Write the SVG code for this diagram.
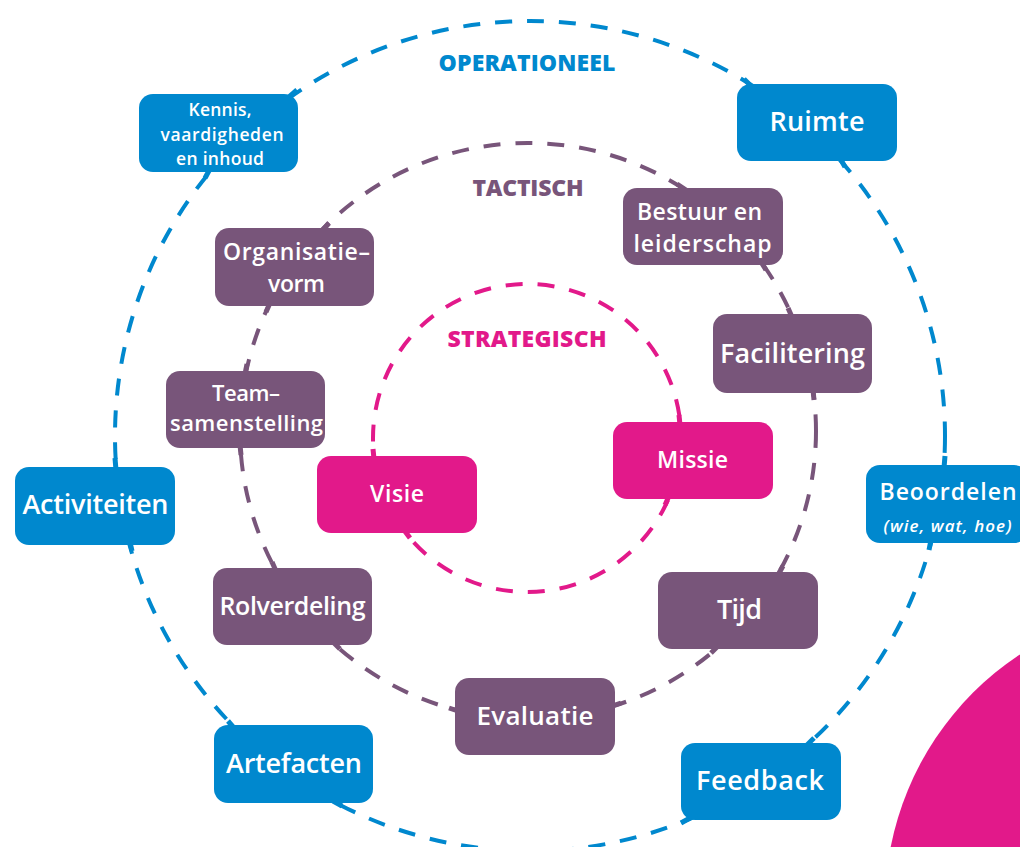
<svg xmlns="http://www.w3.org/2000/svg" width="1020" height="847" viewBox="0 0 1020 847">
<style>
.ring{fill:none;stroke-width:4;stroke-dasharray:17 15}
.blue{fill:#0088CE}
.purple{fill:#78557A}
.pink{fill:#E2198A}
.sb{stroke:#0088CE;stroke-width:5}
.sp{stroke:#78557A;stroke-width:5}
.sk{stroke:#E2198A;stroke-width:5}
.t{font-family:"Open Sans","Noto Sans","Liberation Sans",sans-serif;font-weight:600;fill:#fff;text-anchor:middle}
.lbl{font-family:"Open Sans","Noto Sans","Liberation Sans",sans-serif;font-weight:800;text-anchor:middle;font-size:23px}
</style>
<rect width="1020" height="847" fill="#fff"/>
<circle cx="1185" cy="905" r="300" class="pink"/>
<g id="connectors">
<circle cx="530" cy="436" r="415" class="ring" stroke="#0088CE"/>
<circle cx="528" cy="431" r="288" class="ring" stroke="#78557A"/>
<circle cx="527" cy="438" r="154" class="ring" stroke="#E2198A"/>
</g>
<text class="lbl" x="527" y="71" fill="#0088CE" textLength="177">OPERATIONEEL</text>
<text class="lbl" x="528" y="196" fill="#78557A" textLength="111">TACTISCH</text>
<text class="lbl" x="527" y="347" fill="#E2198A" textLength="159">STRATEGISCH</text>

<g id="kennis">
<line x1="289" y1="97" x2="297" y2="90" class="sb"/>
<line x1="210" y1="169" x2="205" y2="178" class="sb"/>
<rect x="139" y="94" width="159" height="78" rx="14" class="blue"/>
<text class="t" font-size="17.5" x="220" y="116" textLength="63">Kennis,</text>
<text class="t" font-size="17.5" x="222" y="141" textLength="123">vaardigheden</text>
<text class="t" font-size="17.5" x="220" y="165" textLength="88">en inhoud</text>
</g>
<g id="ruimte">
<line x1="752" y1="87" x2="744" y2="79" class="sb"/>
<line x1="840" y1="158" x2="845" y2="167" class="sb"/>
<rect x="737" y="84" width="160" height="77" rx="14" class="blue"/>
<text class="t" font-size="27" x="817" y="131" textLength="95">Ruimte</text>
</g>
<g id="activiteiten">
<line x1="116" y1="470" x2="115" y2="458" class="sb"/>
<line x1="130" y1="542" x2="132" y2="551" class="sb"/>
<rect x="15" y="467" width="160" height="78" rx="14" class="blue"/>
<text class="t" font-size="27" x="95.5" y="514" textLength="146">Activiteiten</text>
</g>
<g id="beoordelen">
<line x1="944" y1="468" x2="945" y2="456" class="sb"/>
<line x1="931" y1="540" x2="929" y2="550" class="sb"/>
<rect x="866" y="465" width="162" height="78" rx="14" class="blue"/>
<text class="t" font-size="23" x="948" y="500" textLength="137">Beoordelen</text>
<text class="t" font-size="17" x="947.5" y="532" font-style="italic" font-weight="400" textLength="128">(wie, wat, hoe)</text>
</g>
<g id="artefacten">
<line x1="234" y1="728" x2="228" y2="721" class="sb"/>
<line x1="333" y1="801" x2="342" y2="806" class="sb"/>
<rect x="214" y="725" width="159" height="78" rx="14" class="blue"/>
<text class="t" font-size="27" x="294" y="773" textLength="136">Artefacten</text>
</g>
<g id="feedback">
<line x1="806" y1="746" x2="814" y2="738" class="sb"/>
<line x1="690" y1="818" x2="681" y2="823" class="sb"/>
<rect x="681" y="743" width="160" height="77" rx="14" class="blue"/>
<text class="t" font-size="27" x="760" y="790" textLength="128">Feedback</text>
</g>

<g id="organisatievorm">
<line x1="322" y1="231" x2="329" y2="223" class="sp"/>
<line x1="270" y1="303" x2="266" y2="312" class="sp"/>
<rect x="215" y="228" width="159" height="78" rx="14" class="purple"/>
<text class="t" font-size="23" x="296.5" y="260" textLength="147">Organisatie–</text>
<text class="t" font-size="23" x="296.5" y="292" textLength="57">vorm</text>
</g>
<g id="teamsamenstelling">
<line x1="245" y1="374" x2="247" y2="364" class="sp"/>
<line x1="240" y1="445" x2="241" y2="455" class="sp"/>
<rect x="166" y="371" width="159" height="77" rx="14" class="purple"/>
<text class="t" font-size="22" x="246" y="401" textLength="68">Team–</text>
<text class="t" font-size="22" x="246.5" y="431" textLength="153">samenstelling</text>
</g>
<g id="rolverdeling">
<line x1="276" y1="571" x2="272" y2="562" class="sp"/>
<line x1="333" y1="642" x2="340" y2="649" class="sp"/>
<rect x="213" y="568" width="159" height="77" rx="14" class="purple"/>
<text class="t" font-size="25" x="292.5" y="615" textLength="146">Rolverdeling</text>
</g>
<g id="evaluatie">
<line x1="458" y1="711" x2="449" y2="708" class="sp"/>
<line x1="612" y1="706" x2="621" y2="703" class="sp"/>
<rect x="455" y="678" width="160" height="77" rx="14" class="purple"/>
<text class="t" font-size="26" x="535" y="725" textLength="117">Evaluatie</text>
</g>
<g id="tijd">
<line x1="778" y1="575" x2="783" y2="566" class="sp"/>
<line x1="718" y1="646" x2="711" y2="653" class="sp"/>
<rect x="658" y="572" width="160" height="77" rx="14" class="purple"/>
<text class="t" font-size="27" x="739.5" y="619" textLength="45">Tijd</text>
</g>
<g id="facilitering">
<line x1="792" y1="317" x2="788" y2="308" class="sp"/>
<line x1="813" y1="390" x2="814" y2="400" class="sp"/>
<rect x="713" y="314" width="159" height="79" rx="14" class="purple"/>
<text class="t" font-size="27" x="792.5" y="363" textLength="145">Facilitering</text>
</g>
<g id="bestuur">
<line x1="686" y1="190" x2="677" y2="184" class="sp"/>
<line x1="761" y1="262" x2="766" y2="270" class="sp"/>
<rect x="623" y="188" width="160" height="77" rx="14" class="purple"/>
<text class="t" font-size="23" x="699.5" y="220" textLength="125">Bestuur en</text>
<text class="t" font-size="23" x="702.5" y="252" textLength="138">leiderschap</text>
</g>

<g id="visie">
<line x1="374" y1="459" x2="373" y2="449" class="sk"/>
<line x1="404" y1="530" x2="410" y2="538" class="sk"/>
<rect x="317" y="456" width="160" height="77" rx="14" class="pink"/>
<text class="t" font-size="23" x="397" y="502" textLength="54">Visie</text>
</g>
<g id="missie">
<line x1="680" y1="425" x2="679" y2="415" class="sk"/>
<line x1="669" y1="496" x2="665" y2="505" class="sk"/>
<rect x="613" y="422" width="160" height="77" rx="14" class="pink"/>
<text class="t" font-size="23" x="692.5" y="468" textLength="71">Missie</text>
</g>
</svg>
